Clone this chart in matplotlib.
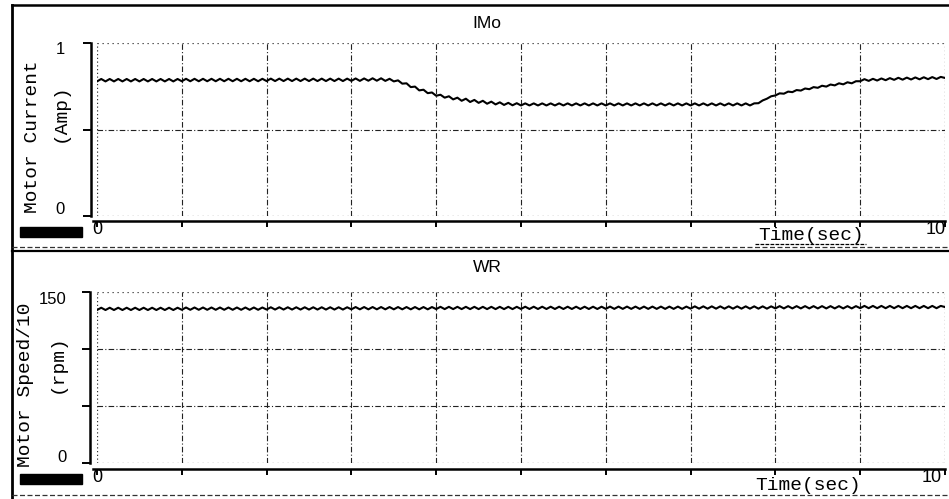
import matplotlib
matplotlib.use("Agg")
import matplotlib.pyplot as plt
import numpy as np
from matplotlib.lines import Line2D
from matplotlib.patches import Rectangle

W, H = 949, 499

# ---------------- data (0.05 s steps) ----------------
time_sec = [round(i * 0.05, 2) for i in range(201)]

motor_current = [
    0.778, 0.792, 0.778, 0.792, 0.778, 0.792, 0.778, 0.792, 0.778, 0.792,
    0.778, 0.792, 0.778, 0.792, 0.778, 0.792, 0.778, 0.792, 0.778, 0.792,
    0.779, 0.793, 0.779, 0.793, 0.779, 0.793, 0.779, 0.793, 0.779, 0.793,
    0.779, 0.793, 0.779, 0.793, 0.779, 0.793, 0.779, 0.793, 0.779, 0.793,
    0.780, 0.794, 0.780, 0.794, 0.780, 0.794, 0.780, 0.794, 0.780, 0.794,
    0.780, 0.794, 0.780, 0.794, 0.780, 0.794, 0.780, 0.794, 0.780, 0.794,
    0.781, 0.795, 0.781, 0.795, 0.782, 0.796, 0.782, 0.796, 0.781, 0.793,
    0.778, 0.784, 0.765, 0.767, 0.745, 0.748, 0.726, 0.730, 0.710, 0.714,
    0.695, 0.701, 0.684, 0.692, 0.674, 0.684, 0.666, 0.678, 0.659, 0.671,
    0.654, 0.666, 0.649, 0.661, 0.645, 0.657, 0.642, 0.654, 0.640, 0.652,
    0.639, 0.651, 0.639, 0.651, 0.639, 0.651, 0.639, 0.651, 0.639, 0.651,
    0.639, 0.651, 0.639, 0.651, 0.639, 0.651, 0.639, 0.651, 0.639, 0.651,
    0.639, 0.651, 0.639, 0.651, 0.639, 0.651, 0.639, 0.651, 0.639, 0.651,
    0.639, 0.651, 0.639, 0.651, 0.639, 0.651, 0.639, 0.651, 0.639, 0.651,
    0.639, 0.651, 0.639, 0.651, 0.639, 0.651, 0.639, 0.651, 0.639, 0.651,
    0.639, 0.651, 0.639, 0.651, 0.639, 0.651, 0.652, 0.668, 0.678, 0.692,
    0.697, 0.709, 0.707, 0.719, 0.716, 0.728, 0.725, 0.737, 0.733, 0.745,
    0.741, 0.753, 0.748, 0.760, 0.755, 0.767, 0.761, 0.773, 0.767, 0.779,
    0.779, 0.791, 0.781, 0.793, 0.783, 0.795, 0.785, 0.797, 0.787, 0.799,
    0.788, 0.800, 0.789, 0.801, 0.790, 0.802, 0.791, 0.803, 0.792, 0.804,
    0.798,
]

motor_speed = [
    134.2, 136.2, 134.2, 136.2, 134.2, 136.2, 134.2, 136.2, 134.2, 136.2,
    134.2, 136.2, 134.2, 136.2, 134.2, 136.2, 134.2, 136.2, 134.2, 136.2,
    134.4, 136.4, 134.4, 136.4, 134.4, 136.4, 134.4, 136.4, 134.4, 136.4,
    134.4, 136.4, 134.4, 136.4, 134.4, 136.4, 134.4, 136.4, 134.4, 136.4,
    134.6, 136.6, 134.6, 136.6, 134.6, 136.6, 134.6, 136.6, 134.6, 136.6,
    134.6, 136.6, 134.6, 136.6, 134.6, 136.6, 134.6, 136.6, 134.6, 136.6,
    134.8, 136.8, 134.8, 136.8, 134.8, 136.8, 134.8, 136.8, 134.8, 136.8,
    134.8, 136.8, 134.8, 136.8, 134.8, 136.8, 134.8, 136.8, 134.8, 136.8,
    135.0, 137.0, 135.0, 137.0, 135.0, 137.0, 135.0, 137.0, 135.0, 137.0,
    135.0, 137.0, 135.0, 137.0, 135.0, 137.0, 135.0, 137.0, 135.0, 137.0,
    135.1, 137.1, 135.1, 137.1, 135.1, 137.1, 135.1, 137.1, 135.1, 137.1,
    135.1, 137.1, 135.1, 137.1, 135.1, 137.1, 135.1, 137.1, 135.1, 137.1,
    135.2, 137.2, 135.2, 137.2, 135.2, 137.2, 135.2, 137.2, 135.2, 137.2,
    135.2, 137.2, 135.2, 137.2, 135.2, 137.2, 135.2, 137.2, 135.2, 137.2,
    135.4, 137.4, 135.4, 137.4, 135.4, 137.4, 135.4, 137.4, 135.4, 137.4,
    135.4, 137.4, 135.4, 137.4, 135.4, 137.4, 135.4, 137.4, 135.4, 137.4,
    135.6, 137.6, 135.6, 137.6, 135.6, 137.6, 135.6, 137.6, 135.6, 137.6,
    135.6, 137.6, 135.6, 137.6, 135.6, 137.6, 135.6, 137.6, 135.6, 137.6,
    135.8, 137.8, 135.8, 137.8, 135.8, 137.8, 135.8, 137.8, 135.8, 137.8,
    135.8, 137.8, 135.8, 137.8, 135.8, 137.8, 135.8, 137.8, 135.8, 137.8,
    136.8,
]

x_ticks = list(range(0, 11))
current_yticks = [0, 0.5, 1]
speed_yticks = [0, 50, 100, 150]
current_ylabels = ["0", "", "1"]
speed_ylabels = ["0", "", "", "150"]

MONO = "Liberation Mono"
SANS = "Liberation Sans"
PX = 72.0 / 100.0  # points per pixel


def rect(x0, y0, x1, y1):
    return [x0 / W, 1 - y1 / H, (x1 - x0) / W, (y1 - y0) / H]


def fx(x):
    return x / W


def fy(y):
    return 1 - y / H


fig = plt.figure(figsize=(W / 100, H / 100), dpi=100)
fig.patch.set_facecolor("white")


def setup_panel(ax, ymax, yticks, left_out_px, bottom_out_px):
    ax.set_xlim(0, 10)
    ax.set_ylim(0, ymax)
    for s in ("top", "right"):
        ax.spines[s].set_visible(False)
    ax.spines["left"].set_position(("outward", left_out_px * PX))
    ax.spines["bottom"].set_position(("outward", bottom_out_px * PX))
    ax.spines["left"].set_linewidth(1.8)
    ax.spines["bottom"].set_linewidth(1.8)
    ax.spines["bottom"].set_bounds(-0.05, 10)
    ax.set_xticks(x_ticks)
    ax.set_yticks(yticks)
    ax.tick_params(axis="x", direction="out", length=6 * PX, width=1.4,
                   labelbottom=False)
    ax.tick_params(axis="y", direction="out", length=8 * PX, width=1.4,
                   labelleft=False)
    # dashed grid lines
    for xv in x_ticks[1:-1]:
        ax.axvline(xv, color="#222222", lw=0.8, ls=(0, (5, 2, 1, 2)), zorder=1)
    for yv in yticks[1:-1]:
        ax.axhline(yv, color="#222222", lw=0.8, ls=(0, (5, 2, 1, 2)), zorder=1)
    # dotted frame around the plotting area
    ax.axhline(ymax, color="#333333", lw=0.9, ls=(0, (1, 3)), zorder=1)
    ax.axhline(0, color="#333333", lw=0.9, ls=(0, (1, 3)), zorder=1)
    ax.axvline(0, color="#333333", lw=0.9, ls=(0, (1, 2)), zorder=1)
    ax.axvline(10, color="#333333", lw=0.9, ls=(0, (1, 2)), zorder=1)
    ax.set_facecolor("none")


# ---------------- top panel: motor current ----------------
ax1 = fig.add_axes(rect(97, 43, 945, 216))
setup_panel(ax1, 1, current_yticks, 6, 5)
ax1.plot(time_sec, motor_current, color="black", lw=1.5, zorder=3)

# ---------------- bottom panel: motor speed ----------------
ax2 = fig.add_axes(rect(97, 292, 945, 463))
setup_panel(ax2, 150, speed_yticks, 7, 6)
ax2.plot(time_sec, motor_speed, color="black", lw=1.5, zorder=3)

# ---------------- texts ----------------
fig.text(fx(487), fy(23), "IMo", family=SANS, fontsize=12.5, ha="center", va="center")
fig.text(fx(487), fy(268), "WR", family=SANS, fontsize=12.5, ha="center", va="center")

# y tick labels
for val, lab, ypx in zip(current_yticks, current_ylabels, [210, 128, 50]):
    if lab:
        fig.text(fx(65), fy(ypx), lab, family=SANS, fontsize=12, ha="right", va="center")
for val, lab, ypx in zip(speed_yticks, speed_ylabels, [458, 406, 348, 299]):
    if lab:
        fig.text(fx(67), fy(ypx), lab, family=SANS, fontsize=12, ha="right", va="center")

# x tick labels
fig.text(fx(97), fy(230), "0", family=SANS, fontsize=13, ha="center", va="center")
fig.text(fx(936), fy(229), "10", family=SANS, fontsize=13, ha="center", va="center")
fig.text(fx(97), fy(478), "0", family=SANS, fontsize=13, ha="center", va="center")
fig.text(fx(932), fy(477), "10", family=SANS, fontsize=13, ha="center", va="center")

# axis titles
fig.text(fx(811), fy(236), "Time(sec)", family=MONO, fontsize=14, ha="center", va="center")
fig.add_artist(Line2D([fx(755), fx(866)], [fy(244), fy(244)], color="black", lw=0.9,
                      ls=(0, (3, 1))))
fig.text(fx(808), fy(485), "Time(sec)", family=MONO, fontsize=14, ha="center", va="center")

fig.text(fx(33), fy(137), "Motor Current", family=MONO, fontsize=14,
         rotation=90, ha="center", va="center")
fig.text(fx(60), fy(113), "(Amp)", family=MONO, fontsize=14,
         rotation=90, ha="center", va="center")
fig.text(fx(26), fy(385), "Motor Speed/10", family=MONO, fontsize=14,
         rotation=90, ha="center", va="center")
fig.text(fx(57), fy(364), "(rpm)", family=MONO, fontsize=14,
         rotation=90, ha="center", va="center")

# black bars bottom-left of each panel
fig.add_artist(Rectangle((fx(20), fy(237)), (82 - 20) / W, 10 / H,
                         facecolor="black", edgecolor="black"))
fig.add_artist(Rectangle((fx(20), fy(484)), (82 - 20) / W, 10 / H,
                         facecolor="black", edgecolor="black"))

# window frame lines
fig.add_artist(Line2D([fx(12), fx(949)], [fy(5), fy(5)], color="black", lw=1.8))
fig.add_artist(Line2D([fx(12), fx(12)], [fy(5), fy(499)], color="black", lw=2.0))
fig.add_artist(Line2D([fx(12), fx(949)], [fy(247), fy(247)], color="#333333", lw=0.9,
                      ls=(0, (4, 2))))
fig.add_artist(Line2D([fx(12), fx(949)], [fy(251), fy(251)], color="black", lw=1.6))
fig.add_artist(Line2D([fx(12), fx(949)], [fy(495), fy(495)], color="#333333", lw=0.9,
                      ls=(0, (4, 2))))

fig.savefig("out.png", dpi=100)
